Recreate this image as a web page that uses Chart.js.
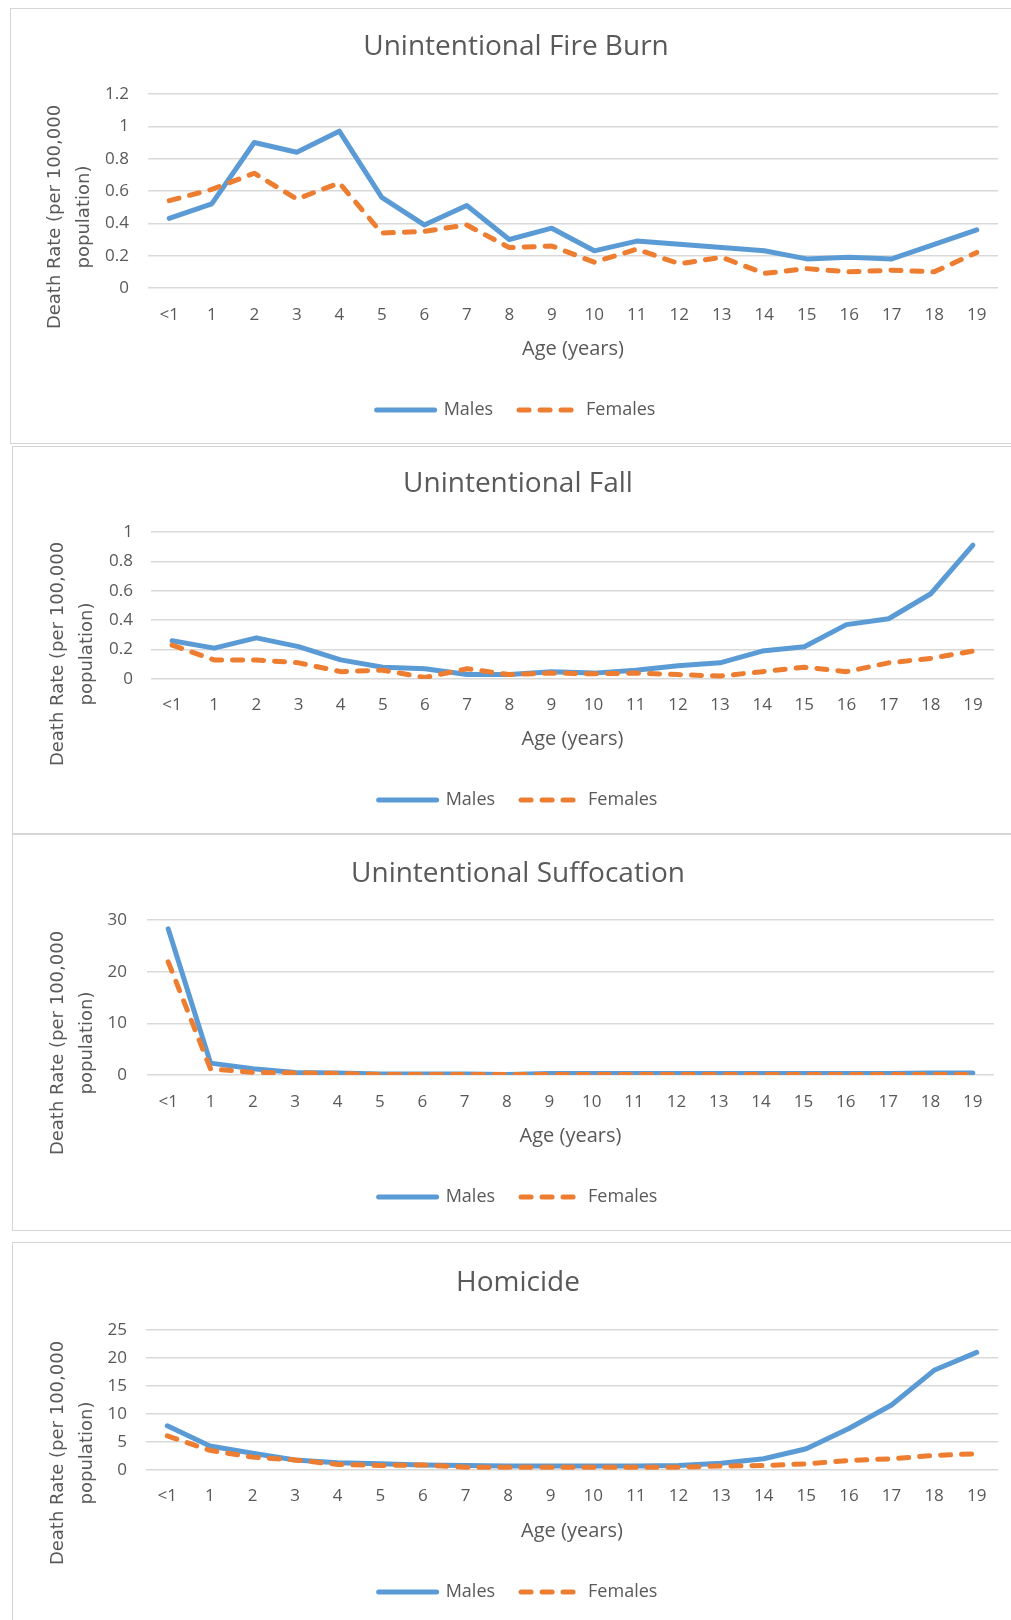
<!DOCTYPE html>
<html>
<head>
<meta charset="utf-8">
<title>Death rates by age</title>
<script src="https://cdn.jsdelivr.net/npm/chart.js@4.4.1/dist/chart.umd.min.js"></script>
<style>
  html, body { margin: 0; padding: 0; background: #fff; }
  body { width: 1011px; height: 1620px; overflow: hidden; position: relative; }
  .panel { position: absolute; border: 1px solid #d6d6d6; background: #fff; }
  .panel canvas { position: absolute; left: 0; top: 0; }
</style>
</head>
<body>
<div class="panel" style="left:10px;top:8px;width:1010px;height:434px;"><canvas id="fireChart" width="1010" height="434"></canvas></div>
<div class="panel" style="left:12px;top:446px;width:1010px;height:386px;"><canvas id="fallChart" width="1010" height="386"></canvas></div>
<div class="panel" style="left:12px;top:834px;width:1010px;height:395px;"><canvas id="suffChart" width="1010" height="395"></canvas></div>
<div class="panel" style="left:12px;top:1242px;width:1010px;height:390px;"><canvas id="homChart" width="1010" height="390"></canvas></div>
<script>
const ageLabels = ['<1', '1', '2', '3', '4', '5', '6', '7', '8', '9', '10', '11', '12', '13', '14', '15', '16', '17', '18', '19'];

const fireMales = [0.43, 0.52, 0.90, 0.84, 0.97, 0.56, 0.39, 0.51, 0.30, 0.37, 0.23, 0.29, 0.27, 0.25, 0.23, 0.18, 0.19, 0.18, 0.27, 0.36];
const fireFemales = [0.54, 0.61, 0.71, 0.55, 0.65, 0.34, 0.35, 0.39, 0.25, 0.26, 0.16, 0.24, 0.15, 0.19, 0.09, 0.12, 0.10, 0.11, 0.10, 0.22];

const fallMales = [0.26, 0.21, 0.28, 0.22, 0.13, 0.08, 0.07, 0.03, 0.03, 0.05, 0.04, 0.06, 0.09, 0.11, 0.19, 0.22, 0.37, 0.41, 0.58, 0.91];
const fallFemales = [0.23, 0.13, 0.13, 0.11, 0.05, 0.06, 0.01, 0.07, 0.03, 0.04, 0.035, 0.04, 0.03, 0.02, 0.05, 0.08, 0.05, 0.11, 0.14, 0.19];

const suffMales = [28.3, 2.3, 1.2, 0.5, 0.4, 0.2, 0.2, 0.2, 0.1, 0.3, 0.3, 0.3, 0.3, 0.3, 0.3, 0.3, 0.3, 0.3, 0.4, 0.4];
const suffFemales = [21.9, 1.2, 0.5, 0.4, 0.3, 0.1, 0.1, 0.1, 0.1, 0.1, 0.1, 0.1, 0.1, 0.1, 0.1, 0.1, 0.1, 0.1, 0.1, 0.1];

const homMales = [7.9, 4.3, 3.0, 1.8, 1.3, 1.1, 0.9, 0.8, 0.7, 0.7, 0.7, 0.7, 0.8, 1.2, 2.0, 3.8, 7.4, 11.6, 17.8, 21.0];
const homFemales = [6.1, 3.5, 2.3, 1.8, 1.0, 0.8, 0.9, 0.5, 0.5, 0.5, 0.5, 0.5, 0.5, 0.7, 0.8, 1.1, 1.7, 2.0, 2.6, 2.9];

const yTitleLines = ['Death Rate (per 100,000', 'population)'];
const xTitleText = 'Age (years)';

const maleColor = '#5b9bd5';
const femaleColor = '#ed7d31';
const textGray = '#595959';
const gridGray = '#d9d9d9';

// rotated two-line y title, drawn where the original sits
const yTitlePlugin = {
    id: 'yTitle',
    afterDraw(chart, args, opts) {
        const ctx = chart.ctx;
        ctx.save();
        ctx.font = '18px "DejaVu Sans"';
        ctx.fillStyle = textGray;
        ctx.textAlign = 'center';
        ctx.textBaseline = 'middle';
        opts.lines.forEach((line, i) => {
            ctx.save();
            ctx.translate(opts.x[i], opts.y);
            ctx.rotate(-Math.PI / 2);
            ctx.fillText(line, 0, 0);
            ctx.restore();
        });
        ctx.restore();
    }
};

function makeChart(canvasId, title, males, females, yMax, yStep, box) {
    const W = 1010;
    const titleLine = 28 * 1.2;
    const legendPad = 26;
    const legendTop = box.legendY - (legendPad + 9);
    const legendHeight = 18 + legendPad + 10;

    return new Chart(document.getElementById(canvasId), {
        type: 'line',
        data: {
            labels: ageLabels,
            datasets: [{
                label: 'Males',
                data: males,
                order: 1,
                borderColor: maleColor,
                backgroundColor: maleColor,
                borderWidth: 5,
                borderCapStyle: 'round',
                borderJoinStyle: 'round',
                pointRadius: 0,
                tension: 0
            }, {
                label: 'Females',
                data: females,
                order: 0,
                borderColor: femaleColor,
                backgroundColor: femaleColor,
                borderWidth: 5,
                borderDash: [10, 11],
                borderCapStyle: 'round',
                borderJoinStyle: 'round',
                pointRadius: 0,
                tension: 0
            }]
        },
        options: {
            responsive: false,
            animation: false,
            layout: {
                padding: { top: 0, left: 0, right: 0, bottom: box.H - legendTop - legendHeight }
            },
            plugins: {
                title: {
                    display: true,
                    text: title,
                    color: textGray,
                    font: { family: 'Open Sans', size: 28, weight: 'normal' },
                    padding: { top: box.titleY - titleLine / 2, bottom: box.plotTop - box.titleY - titleLine / 2 }
                },
                legend: {
                    position: 'bottom',
                    labels: {
                        usePointStyle: true,
                        pointStyle: 'line',
                        pointStyleWidth: 58,
                        padding: legendPad,
                        color: textGray,
                        font: { family: 'Open Sans', size: 18 },
                        generateLabels: chart => chart.data.datasets.map((ds, i) => ({
                            text: ds.label,
                            fillStyle: ds.borderColor,
                            strokeStyle: ds.borderColor,
                            lineWidth: 5,
                            lineDash: ds.borderDash || [],
                            lineCap: 'round',
                            pointStyle: 'line',
                            fontColor: textGray,
                            hidden: false,
                            datasetIndex: i
                        }))
                    }
                },
                tooltip: { enabled: false },
                yTitle: { lines: yTitleLines, x: box.yTitleX, y: box.yTitleY }
            },
            scales: {
                x: {
                    offset: true,
                    grid: { display: false, drawTicks: false },
                    border: { display: false },
                    ticks: {
                        color: textGray,
                        font: { family: 'Open Sans', size: 17 },
                        padding: box.tickY - box.plotBottom - 10,
                        maxRotation: 0,
                        autoSkip: false
                    },
                    title: {
                        display: true,
                        text: xTitleText,
                        color: textGray,
                        font: { family: 'Open Sans', size: 20 },
                        padding: { top: 0, bottom: legendTop - box.axisTitleY - 12 }
                    },
                    afterFit: scale => { scale.height = legendTop - box.plotBottom; }
                },
                y: {
                    min: 0,
                    max: yMax,
                    grid: { color: gridGray, lineWidth: 1.5, drawTicks: false },
                    border: { display: false },
                    ticks: {
                        stepSize: yStep,
                        color: textGray,
                        font: { family: 'Open Sans', size: 17 },
                        padding: box.plotLeft - box.tickRight,
                        callback: v => String(Math.round(v * 10) / 10)
                    },
                    afterFit: scale => { scale.width = box.plotLeft; }
                },
                // empty right-hand strip so title and legend stay centred on the whole panel
                yRight: {
                    position: 'right',
                    grid: { display: false, drawTicks: false },
                    border: { display: false },
                    ticks: { display: false },
                    afterFit: scale => { scale.width = W - box.plotRight; }
                }
            }
        },
        plugins: [yTitlePlugin]
    });
}

makeChart('fireChart', 'Unintentional Fire Burn', fireMales, fireFemales, 1.2, 0.2, {
    H: 434, titleY: 38, plotTop: 85, plotBottom: 279, tickY: 306, axisTitleY: 340, legendY: 401,
    plotLeft: 137, plotRight: 987, tickRight: 118, yTitleX: [44, 73], yTitleY: 208
});
makeChart('fallChart', 'Unintentional Fall', fallMales, fallFemales, 1, 0.2, {
    H: 386, titleY: 37, plotTop: 85, plotBottom: 232, tickY: 258, axisTitleY: 292, legendY: 353,
    plotLeft: 138, plotRight: 981, tickRight: 120, yTitleX: [45, 74], yTitleY: 207
});
makeChart('suffChart', 'Unintentional Suffocation', suffMales, suffFemales, 30, 10, {
    H: 395, titleY: 39, plotTop: 85, plotBottom: 240, tickY: 267, axisTitleY: 301, legendY: 362,
    plotLeft: 134, plotRight: 981, tickRight: 114, yTitleX: [45, 74], yTitleY: 208
});
makeChart('homChart', 'Homicide', homMales, homFemales, 25, 5, {
    H: 390, titleY: 40, plotTop: 87, plotBottom: 227, tickY: 253, axisTitleY: 288, legendY: 349,
    plotLeft: 133, plotRight: 985, tickRight: 114, yTitleX: [45, 74], yTitleY: 210
});
</script>
</body>
</html>
